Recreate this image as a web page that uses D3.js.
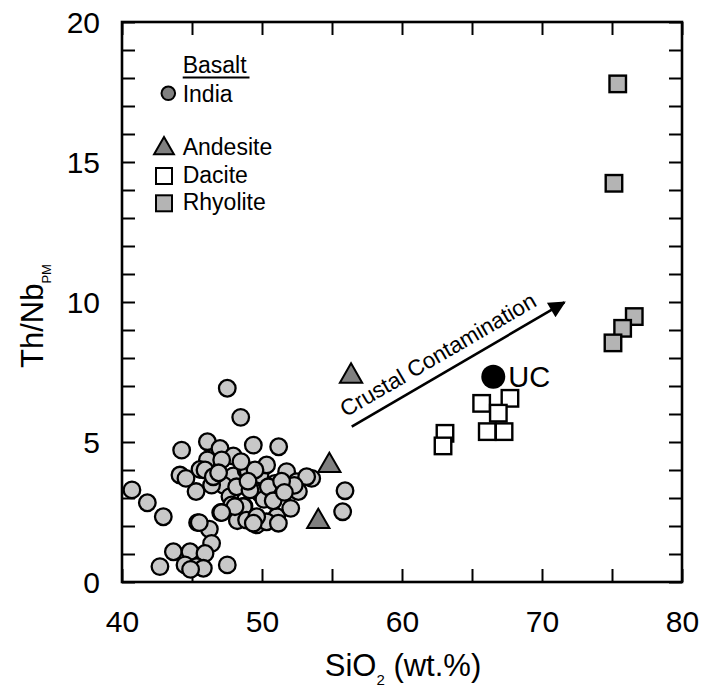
<!DOCTYPE html>
<html>
<head>
<meta charset="utf-8">
<script src="https://cdn.jsdelivr.net/npm/d3@7"></script>
<style>
  html, body { margin: 0; padding: 0; background: #fff; }
  svg text { font-family: "Liberation Sans", Arial, Helvetica, sans-serif; fill: #000; }
</style>
</head>
<body>
<svg id="chart" width="715" height="687"></svg>
<script>
// ---------- data (SiO2 wt.%, Th/Nb_PM) ----------
const basaltSiO2 = [47.52,48.48,44.26,46.10,47.00,47.95,49.38,51.19,46.10,47.12,45.57,44.14,44.57,45.29,47.95,48.86,49.86,50.33,50.93,51.76,52.48,53.55,52.60,47.24,46.40,47.71,49.86,50.14,48.71,47.05,48.24,49.62,51.05,52.05,45.40,46.24,46.40,40.71,41.81,42.95,43.67,44.86,45.93,42.71,44.50,45.33,45.81,47.52,55.93,55.76,47.83,48.67,48.90,50.33,51.17,53.19,45.93,44.90,49.02,49.50,48.19,49.14,50.45,46.52,48.07,49.62,49.38,52.30,51.40,45.52,47.12,50.80,49.00,51.60,46.90,48.50];
const basaltThNb  = [6.92,5.88,4.71,5.01,4.77,4.50,4.89,4.83,4.36,4.36,4.02,3.82,3.70,3.23,3.79,4.00,3.82,4.18,3.52,3.94,3.58,3.70,3.23,3.46,3.46,3.05,3.17,2.95,2.71,2.48,2.19,2.04,2.33,2.63,2.12,1.89,1.38,3.29,2.83,2.33,1.08,1.08,1.02,0.55,0.61,0.55,0.49,0.61,3.26,2.51,2.75,2.69,2.21,2.15,2.10,3.76,4.00,0.45,3.94,4.00,3.40,3.29,3.40,3.76,2.69,2.33,2.10,3.45,3.60,2.12,2.48,2.90,3.60,3.20,3.90,4.30];
const andesiteSiO2 = [56.36, 54.81, 54.02];
const andesiteThNb = [7.35, 4.16, 2.16];
const daciteSiO2 = [65.69, 67.71, 66.88, 66.09, 67.29, 63.07, 62.93];
const daciteThNb = [6.38, 6.56, 6.03, 5.37, 5.37, 5.31, 4.86];
const rhyoliteSiO2 = [75.41, 75.14, 76.59, 75.76, 75.07];
const rhyoliteThNb = [17.79, 14.24, 9.48, 9.06, 8.54];
const ucSiO2 = [66.52];
const ucThNb = [7.33];
const arrowFrom = [56.41, 5.55];
const arrowTo = [71.81, 10.05];
const xDomain = [40, 80];
const yDomain = [0, 20];
const xTickValues = [40, 45, 50, 55, 60, 65, 70, 75, 80];
const xTickLabels = [40, 50, 60, 70, 80];
const yTickValues = d3.range(0, 21, 1);
const yTickLabels = [0, 5, 10, 15, 20];
const legendItems = ["India", "Andesite", "Dacite", "Rhyolite"];

// ---------- layout ----------
const svg = d3.select("#chart");
const L = 122, R = 682, T = 22, B = 582;
const x = d3.scaleLinear().domain(xDomain).range([L, R]);
const y = d3.scaleLinear().domain(yDomain).range([B, T]);
const tickLen = 13;

function styleAxis(g) {
  g.select(".domain").remove();
  g.selectAll(".tick line").attr("stroke", "#000").attr("stroke-width", 2);
  g.selectAll(".tick text").style("font-size", "30px").attr("fill", "#000");
}

svg.append("g").attr("transform", `translate(0,${B})`)
  .call(d3.axisBottom(x).tickValues(xTickValues).tickSizeInner(-tickLen).tickSizeOuter(0).tickPadding(28.5)
    .tickFormat(d => xTickLabels.includes(d) ? d : ""))
  .call(styleAxis);
svg.append("g").attr("transform", `translate(0,${T})`)
  .call(d3.axisTop(x).tickValues(xTickValues).tickSizeInner(-tickLen).tickSizeOuter(0).tickFormat(""))
  .call(styleAxis);
svg.append("g").attr("transform", `translate(${L},0)`)
  .call(d3.axisLeft(y).tickValues(yTickValues).tickSizeInner(-tickLen).tickSizeOuter(0).tickPadding(22)
    .tickFormat(d => yTickLabels.includes(d) ? d : ""))
  .call(styleAxis)
  .selectAll(".tick text").attr("dy", "0.36em");
svg.append("g").attr("transform", `translate(${R},0)`)
  .call(d3.axisRight(y).tickValues(yTickValues).tickSizeInner(-tickLen).tickSizeOuter(0).tickFormat(""))
  .call(styleAxis);

svg.append("rect").attr("x", L).attr("y", T).attr("width", R - L).attr("height", B - T)
  .attr("fill", "none").attr("stroke", "#000").attr("stroke-width", 2.6);

// axis titles
const xt = svg.append("text").attr("x", 403).attr("y", 676).attr("text-anchor", "middle").style("font-size", "31px");
xt.append("tspan").text("SiO");
xt.append("tspan").text("2").style("font-size", "15px").attr("dy", 9);
xt.append("tspan").text(" (wt.%)").attr("dy", -9);

const yt = svg.append("text").attr("transform", "translate(43,316) rotate(-90)").attr("text-anchor", "middle").style("font-size", "31px");
yt.append("tspan").text("Th/Nb");
yt.append("tspan").text("PM").style("font-size", "13px").attr("dy", 8);

// ---------- marks ----------
const plot = svg.append("g");
const basalt = basaltSiO2.map((s, i) => ({ s, t: basaltThNb[i] }));
plot.selectAll("circle.basalt").data(basalt).join("circle").attr("class", "basalt")
  .attr("cx", d => x(d.s)).attr("cy", d => y(d.t)).attr("r", 8.3)
  .attr("fill", "#c8c8c8").attr("stroke", "#000").attr("stroke-width", 2.3);

const andesite = andesiteSiO2.map((s, i) => ({ s, t: andesiteThNb[i] }));
const tri = d3.symbol().type(d3.symbolTriangle).size(215);
plot.selectAll("path.andesite").data(andesite).join("path").attr("class", "andesite")
  .attr("d", tri).attr("transform", d => `translate(${x(d.s)},${y(d.t)})`)
  .attr("fill", "#808080").attr("stroke", "#000").attr("stroke-width", 2).attr("stroke-linejoin", "miter");

const sq = 16.5;
const dacite = daciteSiO2.map((s, i) => ({ s, t: daciteThNb[i] }));
plot.selectAll("rect.dacite").data(dacite).join("rect").attr("class", "dacite")
  .attr("x", d => x(d.s) - sq / 2).attr("y", d => y(d.t) - sq / 2).attr("width", sq).attr("height", sq)
  .attr("fill", "#fff").attr("stroke", "#000").attr("stroke-width", 2.4);

const rhyolite = rhyoliteSiO2.map((s, i) => ({ s, t: rhyoliteThNb[i] }));
plot.selectAll("rect.rhyolite").data(rhyolite).join("rect").attr("class", "rhyolite")
  .attr("x", d => x(d.s) - sq / 2).attr("y", d => y(d.t) - sq / 2).attr("width", sq).attr("height", sq)
  .attr("fill", "#b4b4b4").attr("stroke", "#000").attr("stroke-width", 2.4);

const uc = ucSiO2.map((s, i) => ({ s, t: ucThNb[i] }));
plot.selectAll("circle.uc").data(uc).join("circle").attr("class", "uc")
  .attr("cx", d => x(d.s)).attr("cy", d => y(d.t)).attr("r", 12).attr("fill", "#000");
plot.selectAll("text.uc").data(uc).join("text").attr("class", "uc")
  .attr("x", d => x(d.s) + 15).attr("y", d => y(d.t) + 10).style("font-size", "29px").text("UC");

// arrow
svg.append("defs").append("marker").attr("id", "ah").attr("viewBox", "0 0 10 10")
  .attr("refX", 9).attr("refY", 5).attr("markerWidth", 8).attr("markerHeight", 6.5)
  .attr("markerUnits", "strokeWidth").attr("orient", "auto")
  .append("path").attr("d", "M0,0 L10,5 L0,10 Z").attr("fill", "#000");
const ax1 = x(arrowFrom[0]), ay1 = y(arrowFrom[1]), ax2 = x(arrowTo[0]), ay2 = y(arrowTo[1]);
svg.append("line").attr("x1", ax1).attr("y1", ay1).attr("x2", ax2 - 3).attr("y2", ay2 + 1.8)
  .attr("stroke", "#000").attr("stroke-width", 2.6).attr("marker-end", "url(#ah)");
const ang = Math.atan2(ay2 - ay1, ax2 - ax1) * 180 / Math.PI;
svg.append("text").attr("transform", `translate(${ax1 - 6},${ay1 - 9}) rotate(${ang})`)
  .style("font-size", "22.5px").text("Crustal Contamination");

// ---------- legend ----------
const lg = svg.append("g");
lg.append("text").attr("x", 182.7).attr("y", 73).style("font-size", "23px").text("Basalt");
lg.append("line").attr("x1", 182.7).attr("x2", 249.5).attr("y1", 77.5).attr("y2", 77.5).attr("stroke", "#000").attr("stroke-width", 2);
const legY = [101.7, 155, 182.7, 210];
lg.selectAll("text.li").data(legendItems).join("text").attr("class", "li")
  .attr("x", 182.7).attr("y", (d, i) => legY[i]).style("font-size", "23px").text(d => d);
lg.append("circle").attr("cx", 168.3).attr("cy", 93.3).attr("r", 6.8).attr("fill", "#808080").attr("stroke", "#000").attr("stroke-width", 2);
lg.append("path").attr("d", d3.symbol().type(d3.symbolTriangle).size(170)).attr("transform", "translate(164,148.5)")
  .attr("fill", "#808080").attr("stroke", "#000").attr("stroke-width", 2);
lg.append("rect").attr("x", 164 - 8).attr("y", 176 - 8).attr("width", 16).attr("height", 16).attr("fill", "#fff").attr("stroke", "#000").attr("stroke-width", 2);
lg.append("rect").attr("x", 164 - 8).attr("y", 203.3 - 8).attr("width", 16).attr("height", 16).attr("fill", "#b4b4b4").attr("stroke", "#000").attr("stroke-width", 2);
</script>
</body>
</html>
